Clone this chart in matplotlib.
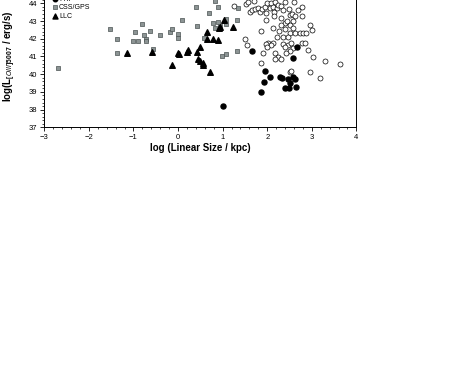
import matplotlib
matplotlib.use('Agg')
import matplotlib.pyplot as plt
from matplotlib.ticker import MultipleLocator

plt.rcParams['font.family'] = ['Liberation Sans', 'DejaVu Sans']
plt.rcParams['mathtext.fontset'] = 'custom'
plt.rcParams['mathtext.bf'] = 'Liberation Sans:bold'
plt.rcParams['mathtext.rm'] = 'Liberation Sans:bold'

# FRII (open circles): log size, log L[OIII]
frii_x = [1.25, 1.53, 1.58, 1.61, 1.65, 1.72, 1.79, 1.83, 1.89, 1.94, 1.97, 2.00,
          2.06, 2.09, 2.13, 2.17, 2.15, 2.21, 2.24, 2.32, 2.35, 2.49, 2.50, 2.56,
          2.62, 2.69, 2.77, 2.79, 1.98, 2.15, 2.32, 2.39, 2.44, 2.50, 2.58, 2.30,
          1.87, 2.13, 2.26, 2.41, 2.58, 2.52, 2.62, 2.73, 2.80, 2.97, 3.01, 2.88,
          2.21, 2.35, 2.47, 2.02, 2.13, 2.09, 2.35, 2.47, 2.54, 2.41, 2.58, 2.50,
          2.77, 2.84, 2.91, 1.91, 2.17, 2.24, 2.17, 2.30, 2.43, 3.03, 3.29, 3.64,
          1.87, 2.52, 2.54, 2.95, 3.18, 1.50, 1.55, 1.97, 2.00, 2.40, 2.60, 1.70]
frii_y = [43.85, 43.97, 44.10, 43.53, 43.63, 43.67, 43.72, 43.53, 43.67, 43.78, 43.47, 44.00,
          43.72, 44.00, 43.81, 44.10, 43.53, 43.72, 43.91, 43.85, 43.63, 43.67, 43.34, 43.40,
          43.29, 43.63, 43.81, 43.29, 43.06, 43.29, 43.16, 42.88, 43.02, 42.78, 43.02, 42.78,
          42.46, 42.59, 42.46, 42.54, 42.59, 42.34, 42.31, 42.31, 42.34, 42.78, 42.50, 42.31,
          42.08, 42.12, 42.08, 41.75, 41.78, 41.65, 41.71, 41.65, 41.75, 41.55, 41.46, 41.33,
          41.78, 41.78, 41.37, 41.18, 41.18, 40.99, 40.84, 40.84, 41.21, 40.95, 40.75, 40.56,
          40.62, 40.14, 40.20, 40.14, 39.77, 42.01, 41.65, 41.71, 41.55, 44.10, 44.05, 44.12]

# FRI (filled circles)
fri_x = [1.01, 1.65, 2.67, 2.58, 1.94, 2.07, 1.92, 1.87, 2.28, 2.33, 2.47, 2.57,
         2.63, 2.50, 2.65, 2.39, 2.49]
fri_y = [38.20, 41.33, 41.55, 40.90, 40.20, 39.86, 39.58, 39.01, 39.82, 39.80, 39.71, 39.82,
         39.71, 39.52, 39.29, 39.22, 39.22]

# CSS/GPS (grey squares)
css_x = [-2.70, -1.52, -1.37, -1.38, -0.81, -0.96, -1.01, -0.89, -0.76, -0.71, -0.72, -0.64,
         -0.56, -0.40, -0.18, -0.13, -0.01, 0.01, 0.09, 0.40, 0.43, 0.83, 0.90, 0.69,
         0.79, 0.90, 1.07, 1.08, 0.95, 0.83, 1.32, 1.35, 0.58, 1.32, 1.08, 0.99]
css_y = [40.35, 42.54, 41.99, 41.21, 42.82, 42.38, 41.89, 41.89, 42.23, 41.97, 41.86, 42.46,
         41.42, 42.20, 42.38, 42.54, 42.03, 42.29, 43.08, 43.78, 42.72, 44.15, 43.78, 43.44,
         42.91, 42.97, 43.12, 42.84, 42.72, 42.63, 43.06, 43.72, 42.03, 41.33, 41.14, 41.03]

# LLC (filled triangles)
llc_x = [-1.15, -0.58, -0.13, 0.00, 0.02, 0.22, 0.21, 0.43, 0.50, 0.45, 0.50, 0.55,
         0.56, 0.71, 0.65, 0.65, 0.78, 0.89, 0.92, 0.94, 1.03, 1.23]
llc_y = [41.18, 41.27, 40.52, 41.21, 41.15, 41.38, 41.24, 41.27, 41.53, 40.84, 40.72, 40.62,
         40.52, 40.10, 42.40, 41.97, 41.97, 41.93, 42.59, 42.68, 43.04, 42.68]

fig = plt.figure(figsize=(4.63, 3.82), dpi=100)
ax = fig.add_axes([0.0957, 0.6668, 0.674, 0.3707])

ax.scatter(frii_x, frii_y, s=13, marker='o', facecolors='white', edgecolors='black',
           linewidths=0.5, label='FRII', zorder=3)
ax.scatter(fri_x, fri_y, s=13, marker='o', color='black', label='FRI', zorder=3)
ax.scatter(css_x, css_y, s=11, marker='s', facecolors='#8c9494', edgecolors='#4a5252',
           linewidths=0.5, label='CSS/GPS', zorder=3)
ax.scatter(llc_x, llc_y, s=16, marker='^', color='black', label='LLC', zorder=4)

ax.set_xlim(-3, 4)
ax.set_ylim(37, 45)
ax.xaxis.set_major_locator(MultipleLocator(1))
ax.xaxis.set_minor_locator(MultipleLocator(0.2))
ax.yaxis.set_major_locator(MultipleLocator(1))
ax.yaxis.set_minor_locator(MultipleLocator(0.2))
ax.tick_params(which='major', direction='out', length=3, width=0.6, labelsize=5.5, pad=2)
ax.tick_params(which='minor', direction='out', length=1.5, width=0.5)
for sp in ax.spines.values():
    sp.set_linewidth(0.7)

ax.set_xlabel('log (Linear Size / kpc)', fontsize=7, fontweight='bold')
ax.xaxis.set_label_coords(0.5, -0.108)
ax.set_ylabel(r'log(L$_{[OIII]5007}$ / erg/s)', fontsize=7, fontweight='bold')
ax.yaxis.set_label_coords(-0.083, 0.5)

ax.legend(loc='lower left', bbox_to_anchor=(52 / 463, 1 - 19.5 / 382),
          bbox_transform=fig.transFigure, frameon=False, fontsize=5,
          handletextpad=0.2, labelspacing=0.2, handlelength=0.8,
          borderpad=0, borderaxespad=0, markerscale=0.9)

fig.savefig('out.png', dpi=100)
